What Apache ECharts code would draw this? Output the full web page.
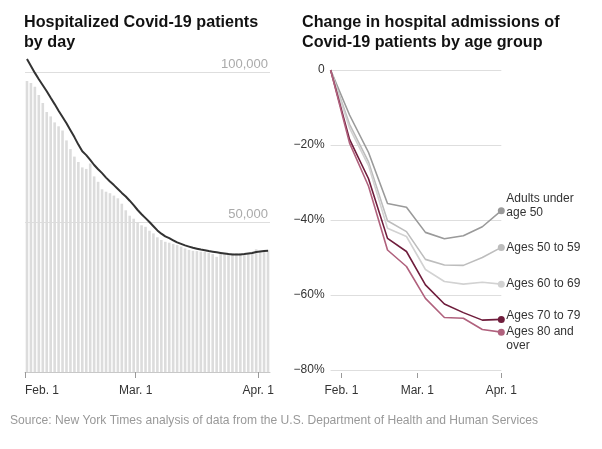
<!DOCTYPE html>
<html>
<head>
<meta charset="utf-8">
<script src="https://cdn.jsdelivr.net/npm/echarts@6/dist/echarts.min.js"></script>
<style>
  html, body { margin: 0; padding: 0; background: #fff; }
  #chart { width: 602px; height: 449px; }
</style>
</head>
<body>
<div id="chart"></div>
<script>
// left panel: daily hospitalized patients, Feb. 1 (day 0) to Apr. 3
const dailyPatients = [
  97000, 96300, 95100, 92300, 89700, 86700, 85200, 83200, 81900, 80500,
  77200, 74300, 71800, 70000, 68200, 67700, 69500, 65200, 63400, 60900,
  60100, 59600, 58800, 57900, 56100, 53900, 52100, 51100, 49900, 48900,
  48400, 47100, 46200, 44900, 44000, 43400, 43100, 42700, 42300, 41800,
  41200, 40700, 40400, 40300, 40100, 40000, 39800, 39300, 38400, 39600,
  39500, 39600, 39600, 39600, 39600, 39300, 39600, 40100, 40900, 40400,
  40400, 40700,
];
const sevenDayAvg = [
  104300, 102000, 99700, 97600, 95600, 93600, 91400, 89300, 87100, 85000,
  82900, 80600, 78300, 75800, 73600, 72300, 70700, 69000, 67600, 66300,
  64800, 63500, 62300, 61000, 59700, 58500, 57100, 55600, 54000, 52600,
  51300, 50000, 48600, 47200, 46100, 45200, 44600, 43900, 43200, 42700,
  42200, 41800, 41400, 41100, 40800, 40600, 40300, 40100, 39900, 39700,
  39500, 39300, 39200, 39200, 39200, 39300, 39500, 39700, 40000, 40200,
  40300, 40400,
];

// shared date ticks (days since Feb. 1)
const tickDays = [0, 28, 59];
const tickLabels = ['Feb. 1', 'Mar. 1', 'Apr. 1'];

// right panel: weekly change in admissions, percent
const weekDays = [-4, 3, 10, 17, 24, 31, 38, 45, 52, 59];
const under50 = [0, -12, -22, -35.6, -36.6, -43.3, -45.0, -44.2, -41.8, -37.5];
const ages50to59 = [0, -14.5, -24.5, -40.2, -43.1, -50.5, -52.0, -52.1, -50.0, -47.3];
const ages60to69 = [0, -15.5, -25.5, -42.2, -44.4, -53.2, -56.4, -57.1, -56.6, -57.1];
const ages70to79 = [0, -18.5, -29, -44.9, -48.4, -57.3, -62.4, -64.7, -66.7, -66.5];
const ages80plus = [0, -19.5, -31, -48.0, -52.4, -60.9, -66.0, -66.2, -69.2, -69.9];

const ageGroups = [
  { name: 'Adults under\nage 50', data: under50, color: '#9a9a9a', dy: -5 },
  { name: 'Ages 50 to 59', data: ages50to59, color: '#bdbdbd', dy: 0 },
  { name: 'Ages 60 to 69', data: ages60to69, color: '#d2d2d2', dy: 0 },
  { name: 'Ages 70 to 79', data: ages70to79, color: '#6f1d3c', dy: -4 },
  { name: 'Ages 80 and\nover', data: ages80plus, color: '#b0617d', dy: 7 },
];

const sans = '"Liberation Sans", Arial, sans-serif',
  tickLabel = (v) => tickLabels[tickDays.indexOf(v)] ?? '',
  // no condensed face installed, so squeeze the bold sans a little
  heading = (text, x) => ({
    type: 'text', x, y: 12, scaleX: 0.95,
    style: { text, font: 'bold 17px ' + sans, fill: '#121212', lineHeight: 20, verticalAlign: 'top' },
  });

const chart = echarts.init(document.getElementById('chart'), null, { renderer: 'canvas' });

chart.setOption({
  animation: false,
  graphic: [
    heading('Hospitalized Covid-19 patients\nby day', 24),
    heading('Change in hospital admissions of\nCovid-19 patients by age group', 302),
    {
      type: 'text', x: 10, y: 414, scaleX: 0.93,
      style: {
        text: 'Source: New York Times analysis of data from the U.S. Department of Health and Human Services',
        font: '13px ' + sans, fill: '#999', verticalAlign: 'top',
      },
    },
  ],
  grid: [
    { left: 25, top: 57, width: 245, height: 315 },
    { left: 330.6, top: 70, width: 170.7, height: 300 },
  ],
  xAxis: [
    {
      type: 'value', gridIndex: 0, min: 0, max: 62,
      splitLine: { show: false },
      axisLine: { show: true, onZero: false, lineStyle: { color: '#c8c8c8', width: 1 } },
      axisTick: { show: true, customValues: tickDays, length: 6, lineStyle: { color: '#999' } },
      axisLabel: {
        customValues: tickDays, formatter: tickLabel, margin: 13, alignMinLabel: 'left',
        fontFamily: sans, fontSize: 12, color: '#333',
      },
    },
    {
      type: 'value', gridIndex: 1, min: -4, max: 59, offset: 3,
      splitLine: { show: false },
      axisLine: { show: false, onZero: false },
      axisTick: { show: true, customValues: tickDays, length: 5, lineStyle: { color: '#999' } },
      axisLabel: {
        customValues: tickDays, formatter: tickLabel, margin: 12,
        fontFamily: sans, fontSize: 12, color: '#333',
      },
    },
  ],
  yAxis: [
    {
      type: 'value', gridIndex: 0, min: 0, max: 105000, interval: 50000, position: 'right',
      axisLine: { show: false }, axisTick: { show: false },
      splitLine: { show: true, showMinLine: false, showMaxLine: false, lineStyle: { color: '#dedede' } },
      axisLabel: {
        inside: true, margin: 2, showMaxLabel: false, verticalAlign: 'bottom', padding: [0, 0, 1, 0],
        formatter: (v) => (v === 0 ? '' : v.toLocaleString('en-US')),
        fontFamily: sans, fontSize: 13, color: '#aaa',
      },
    },
    {
      type: 'value', gridIndex: 1, min: -80, max: 0, interval: 20,
      axisLine: { show: false }, axisTick: { show: false },
      splitLine: { show: true, lineStyle: { color: '#dedede' } },
      axisLabel: {
        margin: 6,
        formatter: (v) => (v === 0 ? '0' : '\u2212' + Math.abs(v) + '%'),
        fontFamily: sans, fontSize: 12, color: '#333',
      },
    },
  ],
  series: [
    {
      type: 'bar', xAxisIndex: 0, yAxisIndex: 0, barWidth: 2.6,
      itemStyle: { color: '#dcdcdc' },
      data: dailyPatients.map((v, i) => [i + 0.5, v]),
    },
    {
      type: 'line', xAxisIndex: 0, yAxisIndex: 0, symbol: 'none',
      lineStyle: { color: '#333', width: 2 },
      data: sevenDayAvg.map((v, i) => [i + 0.5, v]),
    },
    ...ageGroups.map((g) => ({
      type: 'line', name: g.name, xAxisIndex: 1, yAxisIndex: 1,
      symbol: 'circle',
      symbolSize: (val, p) => (p.dataIndex === g.data.length - 1 ? 7 : 0),
      itemStyle: { color: g.color },
      lineStyle: { color: g.color, width: 1.6 },
      data: g.data.map((v, i) => [weekDays[i], v]),
      endLabel: {
        show: true, formatter: g.name, distance: 5, offset: [0, g.dy],
        fontFamily: sans, fontSize: 12, lineHeight: 14, color: '#333',
      },
    })),
  ],
});
</script>
</body>
</html>
